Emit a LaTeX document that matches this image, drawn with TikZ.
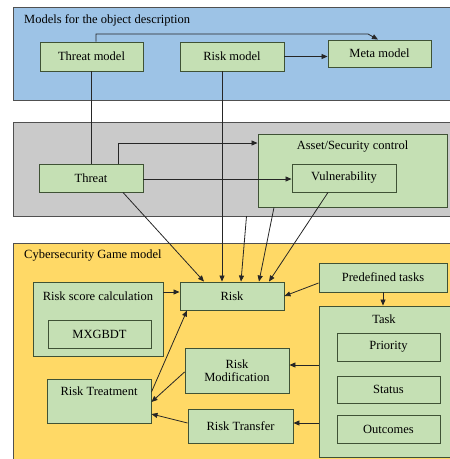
\documentclass[tikz,border=0pt]{standalone}
\usepackage{fontspec}
\setmainfont{Liberation Serif}
\usetikzlibrary{arrows.meta}
\definecolor{pblue}{HTML}{9DC3E6}
\definecolor{pgray}{HTML}{CACACA}
\definecolor{porange}{HTML}{FFD966}
\definecolor{bgreen}{HTML}{C5E0B4}
\definecolor{bline}{HTML}{3F5235}
\definecolor{pline}{HTML}{505050}
\definecolor{aline}{HTML}{262626}
\begin{document}
\begin{tikzpicture}[x=1pt,y=-1pt,
  panel/.style={draw=pline, line width=0.8pt},
  box/.style={draw=bline, fill=bgreen, line width=0.9pt, inner sep=0pt, align=center, font=\fontsize{12.5}{13.5}\selectfont},
  lbl/.style={inner sep=0pt, font=\fontsize{12.5}{13.5}\selectfont},
  arr/.style={draw=aline, line width=0.8pt, -{Triangle[length=6pt,width=5pt]}},
  ln/.style={draw=aline, line width=0.8pt}]
\useasboundingbox (0,0) rectangle (450,459);
% panels
\path[panel, fill=pblue] (13,7) rectangle (460,100);
\node[inner sep=0pt, minimum width=447pt, minimum height=94pt] (grayp) at (236.5,169) {};
\path[panel, fill=pgray] (13,122) rectangle (460,216);
\path[panel, fill=porange] (13,243) rectangle (460,470);
\node[lbl, anchor=west] (t1) at (24,20) {Models for the object description};
\node[lbl, anchor=west] (t3) at (24,256) {Cybersecurity Game model};
% top panel boxes
\node[box, minimum width=103pt, minimum height=29pt] (tm) at (91.5,56.5) {Threat model};
\node[box, minimum width=104pt, minimum height=29pt] (rm) at (232,56.5) {Risk model};
\node[box, minimum width=103pt, minimum height=27pt] (meta) at (379.5,53.5) {Meta model};
% gray panel boxes
\node[box, minimum width=104pt, minimum height=28pt] (threat) at (91,178) {Threat};
\node[box, minimum width=189pt, minimum height=73pt] (asset) at (352.5,170.5) {};
\node[lbl] (assetl) at (352.5,147) {Asset/Security control};
\node[box, minimum width=104pt, minimum height=28pt] (vuln) at (344,178) {Vulnerability};
% orange panel boxes
\node[box, minimum width=104pt, minimum height=28pt] (risk) at (232,296) {Risk};
\node[box, minimum width=128pt, minimum height=29pt] (pre) at (383,277.5) {Predefined tasks};
\node[box, minimum width=132pt, minimum height=151pt] (task) at (385,381.5) {};
\node[lbl] (taskl) at (384,319) {Task};
\node[box, minimum width=103pt, minimum height=28pt] (prio) at (388.5,347) {Priority};
\node[box, minimum width=103pt, minimum height=27pt] (stat) at (388.5,389.5) {Status};
\node[box, minimum width=103pt, minimum height=28pt] (outc) at (388.5,429) {Outcomes};
\node[box, minimum width=130pt, minimum height=74pt] (rsc) at (98,319) {};
\node[lbl] (rscl) at (98,296) {Risk score calculation};
\node[box, minimum width=103pt, minimum height=28pt] (mx) at (99.5,334) {MXGBDT};
\node[box, minimum width=104pt, minimum height=44pt] (rt) at (99,401) {};
\node[lbl] (rtl) at (99,391) {Risk Treatment};
\node[box, minimum width=104pt, minimum height=45pt] (rmod) at (237,370.5) {Risk\\Modification};
\node[box, minimum width=105pt, minimum height=34pt] (rtr) at (240.5,426) {Risk Transfer};
% connectors
\draw[arr] ([xshift=4.5pt]tm.north) |- (368,34) -- ([xshift=-1.5pt]meta.north);
\draw[arr] (rm.east) -- (meta.west |- rm.east);
\draw[ln] (tm.south) -- (tm.south |- threat.north);
\draw[arr] ([xshift=-10pt]rm.south) -- ([xshift=-10pt]risk.north);
\draw[arr] ([xshift=27pt]threat.north) |- ([yshift=27.5pt]asset.west);
\draw[arr] ([yshift=-1pt]threat.east) -- ([yshift=-1pt]vuln.west);
\draw[arr] ([xshift=32pt]threat.south) -- ([xshift=-28pt]risk.north);
\draw[arr] ([xshift=10pt]grayp.south) -- ([xshift=9pt]risk.north);
\draw[arr] ([xshift=-78.5pt]asset.south) -- ([xshift=27pt]risk.north);
\draw[arr] ([xshift=-16pt]vuln.south) -- ([xshift=37pt]risk.north);
\draw[arr] ([yshift=-5.5pt]pre.west) -- (risk.east);
\draw[arr] (pre.south) -- (pre.south |- task.north);
\draw[arr] ([yshift=27pt]rsc.east) -- (risk.west |- 0,292);
\draw[arr] ([yshift=9pt]rt.east) -- ([xshift=-45pt]risk.south);
\draw[arr] ([yshift=-1.5pt]rmod.west) -- ([yshift=-1pt]rt.east);
\draw[arr] ([yshift=3pt]rtr.west) -- ([yshift=-13pt]rt.east);
\draw[arr] ([yshift=16.5pt]task.west) -- ([yshift=16.5pt]task.west -| rmod.east);
\draw[arr] ([yshift=-41.5pt]task.west) -- ([yshift=-41.5pt]task.west -| rtr.east);
\end{tikzpicture}
\end{document}
